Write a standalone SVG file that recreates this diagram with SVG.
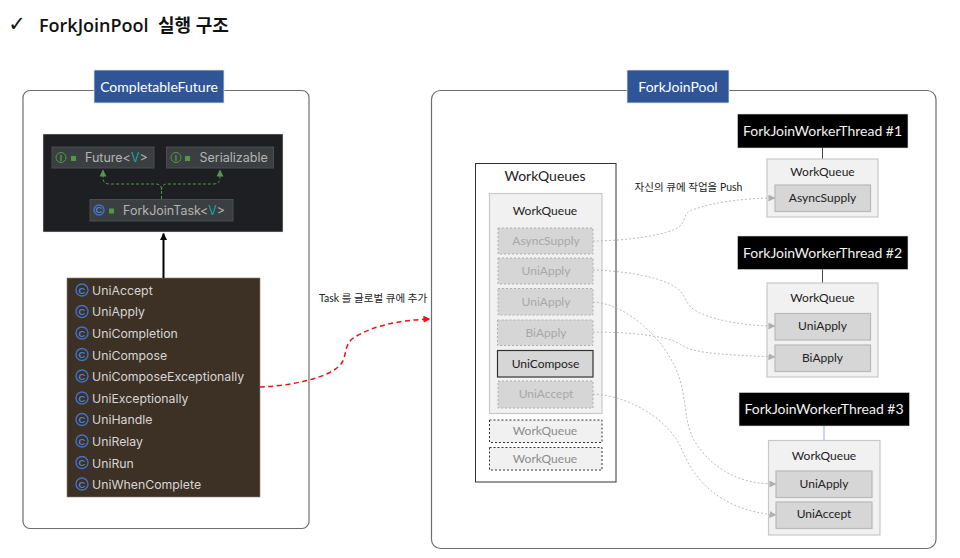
<svg xmlns="http://www.w3.org/2000/svg" width="960" height="558" viewBox="0 0 960 558">
<style>
text{font-family:Lato,"Noto Sans CJK KR",sans-serif;text-anchor:middle;fill:#222}
.panel{fill:#fff;stroke:#6e6e6e;stroke-width:1.2}
.hdr{fill:#2f5597;stroke:#dfe6f2;stroke-width:.8}
.hdrt{fill:#fff;font-size:14px}
.ij{fill:#3c3f41;stroke:#4a4c4e;stroke-width:1}
.ijt{font-family:Inter,"Liberation Sans",sans-serif;font-size:12.5px;fill:#b4b4b4;text-anchor:start}
.lt{font-family:Inter,"Liberation Sans",sans-serif;font-size:12.300px;fill:#d6d6d6;text-anchor:start}
.gc{fill:none;stroke:#4f9a45;stroke-width:1}
.gl{fill:#4f9a45;font-size:8.5px;font-family:"Liberation Sans",sans-serif;font-weight:bold}
.bc{fill:none;stroke:#3f72c9;stroke-width:1.4}
.bl{fill:#4f82d8;font-size:9.5px;font-family:"Liberation Sans",sans-serif;font-weight:bold}
.lk{fill:#4f9a45}
.wq{fill:#f1f1f1;stroke:#c8c8c8;stroke-width:1.2}
.wqd{fill:#f1f1f1;stroke:#333;stroke-width:1;stroke-dasharray:2 2}
.it{fill:#d6d6d6;stroke:#b8b8b8;stroke-width:1.2}
.itd{fill:#d6d6d6;stroke:#b0b0b0;stroke-width:1;stroke-dasharray:2 2}
.thr{fill:#000;stroke:#ddd;stroke-width:.6}
.thrt{fill:#f2f2f2;font-size:14px}
.t12{font-size:12px}
.t11{font-size:10.5px}
.t12g{font-size:12px;fill:#a8a8a8}
.wqg{font-size:12px;fill:#8c8c8c}
.gray{fill:none;stroke:#bdbdbd;stroke-width:1;stroke-dasharray:2 2;marker-end:url(#ga)}
</style>
<defs>
<marker id="ga" viewBox="0 0 8 8" refX="7.5" refY="4" markerWidth="7" markerHeight="7" markerUnits="userSpaceOnUse" orient="auto"><path d="M0 0L8 4L0 8Z" fill="#b0b0b0"/></marker>
<marker id="ra" viewBox="0 0 8 8" refX="7.5" refY="4" markerWidth="7" markerHeight="7" markerUnits="userSpaceOnUse" orient="auto"><path d="M0 0L8 4L0 8Z" fill="#f01010"/></marker>
<marker id="ka" viewBox="0 0 8 8" refX="7.5" refY="4" markerWidth="7" markerHeight="7" markerUnits="userSpaceOnUse" orient="auto"><path d="M0 0L8 4L0 8Z" fill="#000"/></marker>
<marker id="ia" viewBox="0 0 8 8" refX="7.5" refY="4" markerWidth="7" markerHeight="7" markerUnits="userSpaceOnUse" orient="auto"><path d="M0 0L8 4L0 8Z" fill="#4f9a45"/></marker>
</defs>
<g id="title">
<text x="17" y="31" style="font-size:21px;font-family:'DejaVu Sans',sans-serif;fill:#111">✓</text>
<text x="39" y="32" style="font-size:18px;font-weight:600;fill:#111;text-anchor:start;font-family:'Open Sans','Noto Sans CJK KR',sans-serif">ForkJoinPool<tspan x="158">실행 구조</tspan></text>
</g>
<g id="completable-panel">
<rect class="panel" x="23" y="90.500" width="286" height="438" rx="7"/>
<rect class="hdr" x="94" y="70" width="130" height="33"/>
<text class="hdrt" x="159" y="91.500">CompletableFuture</text>
</g>
<g id="hierarchy">
<rect x="43" y="134" width="240" height="98" fill="#1e1f22" stroke="#e8e8e8" stroke-width=".5"/>
<path d="M161.500 199V190Q161.500 184 156 184H110Q103 184 103 178V170" fill="none" stroke="#4f9a45" stroke-width="1" stroke-dasharray="3 2" marker-end="url(#ia)"/>
<path d="M161.500 190Q161.500 184 167 184H213Q220 184 220 178V170" fill="none" stroke="#4f9a45" stroke-width="1" stroke-dasharray="3 2" marker-end="url(#ia)"/>
<g id="future"><rect class="ij" x="52" y="147" width="102" height="21"/><circle class="gc" cx="61" cy="157.500" r="5"/><text class="gl" x="61" y="160.500">I</text><rect class="lk" x="71" y="156" width="5" height="5"/><text class="ijt" x="85" y="162">Future&lt;<tspan fill="#12a5a0">V</tspan>&gt;</text></g>
<g id="serializable"><rect class="ij" x="166.500" y="147" width="107" height="21"/><circle class="gc" cx="176" cy="157.500" r="5"/><text class="gl" x="176" y="160.500">I</text><rect class="lk" x="185" y="156" width="5" height="5"/><text class="ijt" x="199.500" y="162">Serializable</text></g>
<g id="forkjointask"><rect class="ij" x="90" y="199.500" width="143" height="21.500"/><circle class="bc" cx="99" cy="210" r="5"/><text class="bl" x="99" y="213">C</text><rect class="lk" x="109" y="208.500" width="5" height="5"/><text class="ijt" x="123" y="215">ForkJoinTask&lt;<tspan fill="#12a5a0">V</tspan>&gt;</text></g>
</g>
<g id="uni-classes">
<rect x="67" y="278" width="193" height="219" fill="#3d3024" stroke="#8a8478" stroke-width=".6"/>
<circle class="bc" cx="82" cy="290" r="6"/><text class="bl" x="82" y="293.500">C</text><text class="lt" x="92" y="294.500">UniAccept</text>
<circle class="bc" cx="82" cy="311.500" r="6"/><text class="bl" x="82" y="315">C</text><text class="lt" x="92" y="316">UniApply</text>
<circle class="bc" cx="82" cy="333" r="6"/><text class="bl" x="82" y="336.500">C</text><text class="lt" x="92" y="337.500">UniCompletion</text>
<circle class="bc" cx="82" cy="354.500" r="6"/><text class="bl" x="82" y="358">C</text><text class="lt" x="92" y="359.500">UniCompose</text>
<circle class="bc" cx="82" cy="376" r="6"/><text class="bl" x="82" y="379.500">C</text><text class="lt" x="92" y="381">UniComposeExceptionally</text>
<circle class="bc" cx="82" cy="398" r="6"/><text class="bl" x="82" y="401.500">C</text><text class="lt" x="92" y="402.500">UniExceptionally</text>
<circle class="bc" cx="82" cy="419.500" r="6"/><text class="bl" x="82" y="423">C</text><text class="lt" x="92" y="424">UniHandle</text>
<circle class="bc" cx="82" cy="441" r="6"/><text class="bl" x="82" y="444.500">C</text><text class="lt" x="92" y="445.500">UniRelay</text>
<circle class="bc" cx="82" cy="462.500" r="6"/><text class="bl" x="82" y="466">C</text><text class="lt" x="92" y="467.500">UniRun</text>
<circle class="bc" cx="82" cy="484" r="6"/><text class="bl" x="82" y="487.500">C</text><text class="lt" x="92" y="489">UniWhenComplete</text>
</g>
<g id="pool-panel">
<rect class="panel" x="431.500" y="90.500" width="504.500" height="458" rx="9"/>
<rect class="hdr" x="627" y="70" width="102" height="33"/>
<text class="hdrt" x="678" y="91.500">ForkJoinPool</text>
</g>
<g id="workqueues">
<rect x="475.500" y="163.500" width="140.500" height="318.500" fill="#fff" stroke="#333" stroke-width="1"/>
<text x="545" y="181" style="font-size:14px">WorkQueues</text>
</g>
<g id="workqueue-main">
<rect class="wq" x="489.500" y="193.500" width="112.500" height="220"/>
<text class="t12" x="545" y="215">WorkQueue</text>
<rect class="itd" x="498" y="228" width="95" height="26"/><text class="t12g" x="546" y="245">AsyncSupply</text>
<rect class="itd" x="498" y="258" width="95" height="26"/><text class="t12g" x="546" y="275">UniApply</text>
<rect class="itd" x="498" y="288.500" width="95" height="26.500"/><text class="t12g" x="546" y="305.500">UniApply</text>
<rect class="itd" x="497.500" y="320" width="95.500" height="25.500"/><text class="t12g" x="546" y="337">BiApply</text>
<rect x="497.500" y="350.500" width="95.500" height="26.500" fill="#d6d6d6" stroke="#333" stroke-width="1.200"/><text class="t12" x="545.500" y="367.500">UniCompose</text>
<rect class="itd" x="498" y="381" width="95" height="27"/><text class="t12g" x="546" y="398">UniAccept</text>
</g>
<g id="workqueue-empty-1"><rect class="wqd" x="489.500" y="420" width="112.500" height="22.500"/><text class="wqg" x="545" y="435">WorkQueue</text></g>
<g id="workqueue-empty-2"><rect class="wqd" x="489.500" y="447.500" width="112.500" height="22.500"/><text class="wqg" x="545" y="462.500">WorkQueue</text></g>
<g id="thread-1">
<rect class="thr" x="737.500" y="114" width="170.500" height="34"/><text class="thrt" x="822.500" y="136">ForkJoinWorkerThread #1</text>
<path d="M822.500 148V159" stroke="#444" stroke-width="1"/>
<rect class="wq" x="767" y="159" width="111" height="58"/><text class="t12" x="822.500" y="175.500">WorkQueue</text>
<rect class="it" x="775" y="185" width="95.500" height="26.500"/><text class="t12" x="822.500" y="201.500">AsyncSupply</text>
</g>
<g id="thread-2">
<rect class="thr" x="737.500" y="236" width="170.500" height="33.500"/><text class="thrt" x="822.500" y="257.500">ForkJoinWorkerThread #2</text>
<path d="M822.500 269.500V283" stroke="#444" stroke-width="1"/>
<rect class="wq" x="767" y="283" width="111" height="94"/><text class="t12" x="822.500" y="302">WorkQueue</text>
<rect class="it" x="775" y="313.500" width="95.500" height="26.500"/><text class="t12" x="822.500" y="330">UniApply</text>
<rect class="it" x="775" y="345" width="95.500" height="26.500"/><text class="t12" x="822.500" y="361.500">BiApply</text>
</g>
<g id="thread-3">
<rect class="thr" x="739" y="392.500" width="170.500" height="33.500"/><text class="thrt" x="824" y="414">ForkJoinWorkerThread #3</text>
<path d="M824 426V440.500" stroke="#8fb0dc" stroke-width="1"/>
<rect class="wq" x="768.500" y="440.500" width="111.500" height="94.500"/><text class="t12" x="824" y="460">WorkQueue</text>
<rect class="it" x="776" y="471" width="96" height="26.500"/><text class="t12" x="824" y="487.500">UniApply</text>
<rect class="it" x="776" y="502" width="96" height="26.500"/><text class="t12" x="824" y="518">UniAccept</text>
</g>
<g id="connectors">
<path d="M163.500 278V233.500" fill="none" stroke="#000" stroke-width="2" marker-end="url(#ka)"/>
<path d="M260 387C290 386 330 378 341 364C347 356 344 346 352 339C370 326 400 320 430 319" fill="none" stroke="#f01010" stroke-width="1.500" stroke-dasharray="5 3.500" marker-end="url(#ra)"/>
<path class="gray" d="M593 241C625 241 672 235 681 225C687 218 682 213 695 209C715 202 745 198 775 198"/>
<path class="gray" d="M593 270C630 271 670 279 680 291C688 300 685 306 700 313C720 322 750 326 775 326"/>
<path class="gray" d="M593 302C630 304 670 345 680 380C689 412 682 430 705 455C725 477 750 484 776 484"/>
<path class="gray" d="M593 332C625 332 665 335 680 344C690 351 700 354 775 357"/>
<path class="gray" d="M593 394C630 396 670 420 682 450C692 474 715 510 776 515"/>
</g>
<g id="labels">
<text class="t11" x="373" y="302">Task 를 글로벌 큐에 추가</text>
<text class="t11" x="688.500" y="191">자신의 큐에 작업을 Push</text>
</g>
</svg>
